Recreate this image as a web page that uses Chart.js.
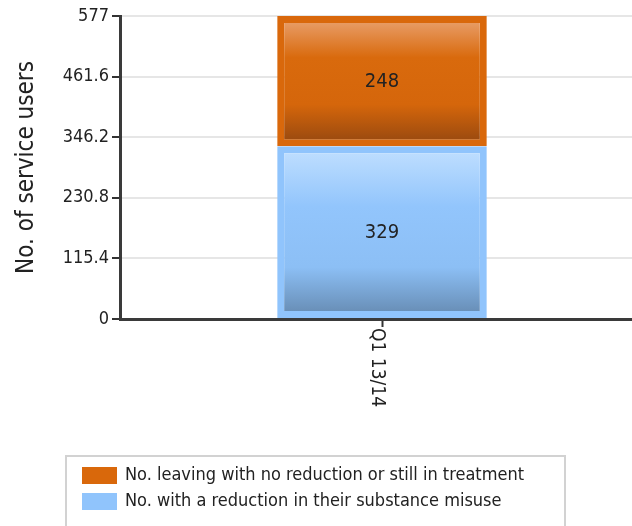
<!DOCTYPE html>
<html>
<head>
<meta charset="utf-8">
<script src="https://cdn.jsdelivr.net/npm/chart.js@4.4.0/dist/chart.umd.min.js"></script>
<style>
  html, body { margin: 0; padding: 0; background: #fff; overflow: hidden; }
  #wrap { width: 644px; height: 526px; }
</style>
</head>
<body>
<div id="wrap"><canvas id="chart"></canvas></div>
<script>
const categories = ['Q1 13/14'];
const reductionValues = [329];
const noReductionValues = [248];
const yTicks = [0, 115.4, 230.8, 346.2, 461.6, 577];
const seriesNames = [
  'No. with a reduction in their substance misuse',
  'No. leaving with no reduction or still in treatment'
];

const FONT = "'DejaVu Sans Condensed', 'DejaVu Sans', sans-serif";

// vertical glossy fill, light on top and dark at the bottom
function barFill(stops, solid) {
  return function (c) {
    const chart = c.chart, y = chart.scales.y;
    if (!chart.chartArea || !y || c.dataIndex === undefined) return solid;
    let start = 0;
    for (let d = 0; d < c.datasetIndex; d++) start += chart.data.datasets[d].data[c.dataIndex];
    const end = start + chart.data.datasets[c.datasetIndex].data[c.dataIndex];
    const top = y.getPixelForValue(end), bottom = y.getPixelForValue(start);
    if (!(bottom > top)) return solid;
    const g = chart.ctx.createLinearGradient(0, top, 0, bottom);
    stops.forEach(s => g.addColorStop(s[0], s[1]));
    return g;
  };
}

const xLabelPlugin = {
  id: 'xLabel',
  afterDraw(chart) {
    const ctx = chart.ctx, x = chart.scales.x;
    ctx.save();
    ctx.font = '19px ' + FONT;
    ctx.fillStyle = '#222';
    ctx.textBaseline = 'middle';
    categories.forEach((label, i) => {
      ctx.save();
      ctx.translate(x.getPixelForValue(i) - 5, chart.chartArea.bottom + 9);
      ctx.rotate(Math.PI / 2);
      ctx.fillText(label, 0, 0);
      ctx.restore();
    });
    ctx.restore();
  }
};

const valueLabelPlugin = {
  id: 'valueLabels',
  afterDatasetsDraw(chart) {
    const ctx = chart.ctx;
    ctx.save();
    ctx.font = '20px ' + FONT;
    ctx.fillStyle = '#222';
    ctx.textAlign = 'center';
    ctx.textBaseline = 'middle';
    chart.data.datasets.forEach((ds, di) => {
      chart.getDatasetMeta(di).data.forEach((bar, i) => {
        ctx.fillText(ds.data[i], bar.x, (bar.y + bar.base) / 2 + 1);
      });
    });
    ctx.restore();
  }
};

const boxLegendPlugin = {
  id: 'boxLegend',
  afterDraw(chart) {
    const ctx = chart.ctx;
    ctx.save();
    ctx.strokeStyle = '#d2d2d2';
    ctx.lineWidth = 2;
    ctx.strokeRect(66, 456, 499, 90);
    ctx.font = '18px ' + FONT;
    ctx.textBaseline = 'middle';
    const items = chart.data.datasets.slice().reverse();
    items.forEach((ds, i) => {
      const y = 467 + i * 26;
      ctx.fillStyle = ds.borderColor;
      ctx.fillRect(82, y, 35, 17);
      ctx.fillStyle = '#222';
      ctx.fillText(ds.label, 125, y + 8);
    });
    ctx.restore();
  }
};

new Chart(document.getElementById('chart'), {
  type: 'bar',
  data: {
    labels: categories,
    datasets: [
      {
        label: seriesNames[0],
        data: reductionValues,
        borderColor: '#90c4fc',
        borderWidth: 7,
        borderSkipped: false,
        backgroundColor: barFill([[0, '#c2e0ff'], [0.35, '#92c5fc'], [0.7, '#8cbff5'], [1, '#6387ad']], '#90c4fc')
      },
      {
        label: seriesNames[1],
        data: noReductionValues,
        borderColor: '#d9680b',
        borderWidth: 7,
        borderSkipped: false,
        backgroundColor: barFill([[0, '#eaa474'], [0.32, '#d96a0d'], [0.68, '#d5660b'], [1, '#924610']], '#d9680b')
      }
    ]
  },
  options: {
    responsive: true,
    maintainAspectRatio: false,
    animation: false,
    layout: { padding: { top: 16, left: 0, right: 0, bottom: 0 } },
    plugins: {
      legend: { display: false },
      tooltip: { enabled: false }
    },
    datasets: {
      bar: { categoryPercentage: 1, barPercentage: 0.4 }
    },
    scales: {
      x: {
        stacked: true,
        grid: {
          drawOnChartArea: false,
          offset: false,
          tickLength: 8,
          tickColor: '#333',
          tickWidth: 2
        },
        border: { color: '#3a3a3a', width: 3 },
        ticks: { display: false },
        afterFit(scale) { scale.height = 207; }
      },
      y: {
        stacked: true,
        min: 0,
        max: 577,
        afterBuildTicks(scale) { scale.ticks = yTicks.map(v => ({ value: v })); },
        ticks: {
          padding: 3,
          color: '#222',
          font: { family: FONT, size: 18 },
          callback: v => String(v)
        },
        grid: {
          color: '#e6e6e6',
          lineWidth: 2,
          tickLength: 8,
          tickColor: '#333',
          tickWidth: 2
        },
        border: { color: '#3a3a3a', width: 3 },
        title: {
          display: true,
          text: 'No. of service users',
          color: '#222',
          font: { family: FONT, size: 24 },
          padding: { top: 12, bottom: 0 }
        },
        afterFit(scale) { scale.width = 120; }
      }
    }
  },
  plugins: [valueLabelPlugin, xLabelPlugin, boxLegendPlugin]
});
</script>
</body>
</html>
